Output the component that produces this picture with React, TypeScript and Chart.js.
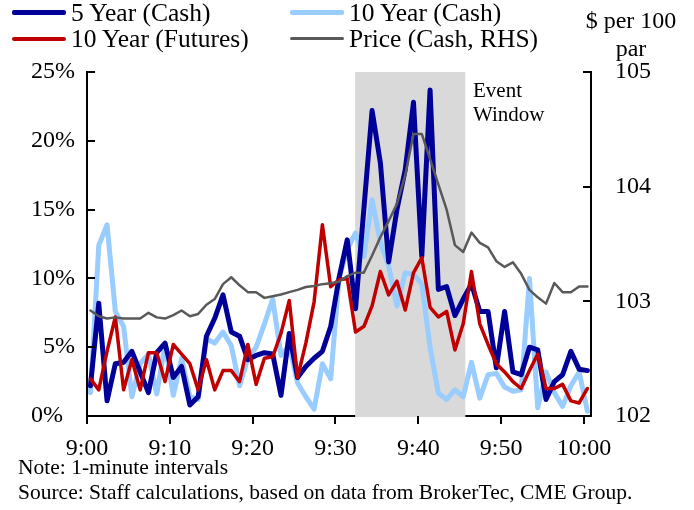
import React, { useEffect, useRef } from "react";
import { Chart, registerables } from "chart.js";

Chart.register(...registerables);

// ---- Data (1-minute intervals, 9:00 .. 10:00) ----
const fiveYearCash = [
  2.2, 8.2, 1.1, 3.8, 3.9, 4.7, 3.2, 1.7, 4.6, 5.3,
  2.8, 3.6, 0.8, 1.4, 5.8, 7.1, 8.8, 6.1, 5.8, 4.1,
  4.4, 4.6, 4.5, 1.5, 6.0, 2.8, 3.6, 4.2, 4.7, 6.5,
  10.0, 12.8, 7.8, 15.0, 22.2, 18.4, 11.2, 15.0, 17.9, 22.8,
  11.6, 23.7, 9.2, 9.4, 7.3, 8.5, 9.6, 7.6, 7.6, 3.5,
  7.6, 3.2, 3.0, 5.0, 4.8, 1.2, 2.5, 3.0, 4.7, 3.4,
  3.3,
];
const tenYearCash = [
  1.7, 12.4, 13.9, 7.6, 6.5, 1.4, 3.8, 4.5, 1.6, 5.2,
  1.5, 4.2, 1.4, 1.2, 5.6, 5.3, 6.1, 5.1, 2.2, 4.2,
  5.0, 6.7, 8.5, 4.4, 5.1, 2.4, 1.4, 0.5, 3.8, 2.7,
  10.0, 12.1, 13.3, 11.6, 15.7, 12.6, 10.9, 8.0, 10.4, 10.3,
  9.6, 5.0, 1.65, 1.2, 1.9, 1.4, 3.9, 1.3, 3.0, 3.1,
  2.1, 1.8, 1.9, 10.0, 0.6, 3.2, 1.7, 0.7, 2.2, 3.2,
  0.35,
];
const tenYearFutures = [
  2.7, 1.9, 4.7, 7.2, 1.9, 4.1, 1.9, 4.6, 4.6, 2.5,
  5.2, 4.5, 3.8, 1.9, 4.1, 1.9, 3.3, 3.3, 2.5, 5.2,
  2.3, 4.2, 4.3, 6.0, 8.4, 2.8, 5.3, 8.3, 13.9, 9.4,
  9.9, 10.0, 6.1, 6.5, 8.0, 10.5, 8.8, 9.8, 7.7, 10.4,
  11.5, 7.9, 7.2, 7.6, 4.8, 6.7, 10.5, 6.7, 5.2, 3.8,
  3.2, 2.5, 2.0, 3.3, 4.5, 2.0, 2.0, 2.3, 1.1, 0.95,
  2.0,
];
const priceCash = [
  102.92, 102.87, 102.85, 102.86, 102.85, 102.85, 102.85, 102.9, 102.86, 102.85,
  102.88, 102.92, 102.87, 102.89, 102.97, 103.02, 103.15, 103.21, 103.14, 103.08,
  103.08, 103.03, 103.045, 103.06, 103.08, 103.1, 103.125, 103.134, 103.15, 103.157,
  103.17, 103.22, 103.25, 103.25, 103.4, 103.56, 103.7, 103.85, 104.1, 104.46,
  104.46, 104.24, 104.02, 103.8, 103.49, 103.43, 103.6, 103.51, 103.47, 103.35,
  103.3, 103.34, 103.24, 103.1, 103.035, 102.98, 103.16, 103.08, 103.08, 103.13,
  103.13,
];

const xTickMinutes = [0, 10, 20, 30, 40, 50, 60];
const xTickLabels = ["9:00", "9:10", "9:20", "9:30", "9:40", "9:50", "10:00"];
const leftTicks = [0, 5, 10, 15, 20, 25];
const rightTicks = [102, 103, 104, 105];
const eventWindow = [32.37, 45.68]; // minutes after 9:00

const SERIF = '"Liberation Serif", "Times New Roman", serif';
const POINT_OFFSET = 0.42;
const X_MAX = 60.85;

const toPoints = (arr: number[]) => arr.map((v, i) => ({ x: i + POINT_OFFSET, y: v }));

const framePlugin = {
  id: "frame",
  beforeDatasetsDraw(chart: any) {
    const { ctx, chartArea, scales } = chart;
    const x1 = scales.x.getPixelForValue(eventWindow[0]);
    const x2 = scales.x.getPixelForValue(eventWindow[1]);
    ctx.save();
    ctx.fillStyle = "#D9D9D9";
    ctx.fillRect(x1, chartArea.top, x2 - x1, chartArea.bottom - chartArea.top + 1);
    ctx.restore();
  },
  afterDraw(chart: any) {
    const { ctx, chartArea, scales } = chart;
    ctx.save();
    ctx.strokeStyle = "#000";
    ctx.lineWidth = 2;
    ctx.beginPath();
    leftTicks.forEach((v) => {
      const py = Math.round(scales.y.getPixelForValue(v));
      ctx.moveTo(chartArea.left, py);
      ctx.lineTo(chartArea.left + 8, py);
    });
    rightTicks.forEach((v) => {
      const py = Math.round(scales.y1.getPixelForValue(v));
      ctx.moveTo(chartArea.right, py);
      ctx.lineTo(chartArea.right - 8, py);
    });
    xTickMinutes.forEach((v) => {
      const px = Math.round(scales.x.getPixelForValue(v));
      ctx.moveTo(px, chartArea.bottom);
      ctx.lineTo(px, chartArea.bottom + 8);
    });
    ctx.stroke();
    ctx.restore();
  },
};

export default function App() {
  const ref = useRef<HTMLCanvasElement | null>(null);

  useEffect(() => {
    if (!ref.current) return;
    const chart = new Chart(ref.current, {
      type: "line",
      data: {
        datasets: [
          {
            label: "Price (Cash, RHS)",
            data: toPoints(priceCash),
            yAxisID: "y1",
            borderColor: "#595959",
            borderWidth: 2.5,
            pointRadius: 0,
            order: 0,
          },
          {
            label: "10 Year (Futures)",
            data: toPoints(tenYearFutures),
            yAxisID: "y",
            borderColor: "#C00000",
            borderWidth: 3.5,
            pointRadius: 0,
            order: 1,
          },
          {
            label: "5 Year (Cash)",
            data: toPoints(fiveYearCash),
            yAxisID: "y",
            borderColor: "#000099",
            borderWidth: 5,
            pointRadius: 0,
            order: 2,
          },
          {
            label: "10 Year (Cash)",
            data: toPoints(tenYearCash),
            yAxisID: "y",
            borderColor: "#99CCFF",
            borderWidth: 5,
            pointRadius: 0,
            order: 3,
          },
        ],
      },
      options: {
        animation: false,
        responsive: false,
        devicePixelRatio: 1,
        events: [],
        elements: {
          line: { tension: 0, borderJoinStyle: "round", borderCapStyle: "round" },
        },
        layout: { padding: { top: 72, left: 0, right: 0, bottom: 0 } },
        plugins: { legend: { display: false }, tooltip: { enabled: false } },
        scales: {
          x: {
            type: "linear",
            min: 0,
            max: X_MAX,
            afterBuildTicks: (s: any) => {
              s.ticks = xTickMinutes.map((v) => ({ value: v }));
            },
            afterFit: (s: any) => {
              s.height = 94;
            },
            grid: { display: false, drawTicks: false },
            border: { display: true, color: "#000", width: 2 },
            ticks: {
              autoSkip: false,
              maxRotation: 0,
              padding: 18,
              color: "#000",
              font: { family: SERIF, size: 24 },
              callback: (v: any) => {
                const k = xTickMinutes.indexOf(Number(v));
                return k >= 0 ? xTickLabels[k] : "";
              },
            },
          },
          y: {
            position: "left",
            min: 0,
            max: 25,
            afterBuildTicks: (s: any) => {
              s.ticks = leftTicks.map((v) => ({ value: v }));
            },
            afterFit: (s: any) => {
              s.width = 87;
            },
            grid: { display: false, drawTicks: false },
            border: { display: true, color: "#000", width: 2 },
            ticks: {
              padding: 12,
              color: "#000",
              font: { family: SERIF, size: 24 },
              callback: (v: any) => (Number(v) === 0 ? "0%  " : `${v}%`),
            },
          },
          y1: {
            position: "right",
            min: 102,
            max: 105,
            afterBuildTicks: (s: any) => {
              s.ticks = rightTicks.map((v) => ({ value: v }));
            },
            afterFit: (s: any) => {
              s.width = 103;
            },
            grid: { display: false, drawTicks: false },
            border: { display: true, color: "#000", width: 2 },
            ticks: {
              padding: 24,
              color: "#000",
              font: { family: SERIF, size: 24 },
              callback: (v: any) => `${v}`,
            },
          },
        },
      },
      plugins: [framePlugin],
    } as any);
    return () => chart.destroy();
  }, []);

  const text: React.CSSProperties = {
    position: "absolute",
    fontFamily: SERIF,
    color: "#000",
    whiteSpace: "nowrap",
    lineHeight: 1,
  };
  const legendItem = (left: number, top: number, color: string, w: number, label: string) => (
    <div style={{ ...text, left, top, fontSize: 25.5, display: "flex", alignItems: "center" }}>
      <span
        style={{
          display: "inline-block",
          width: 54,
          height: 0,
          borderTop: `${w}px solid ${color}`,
          borderRadius: 2,
          marginRight: 5,
        }}
      />
      <span>{label}</span>
    </div>
  );

  return (
    <div style={{ position: "absolute", left: 0, top: 0, width: 694, height: 510, background: "#fff" }}>
      <canvas ref={ref} width={694} height={510} style={{ position: "absolute", left: 0, top: 0, width: 694, height: 510 }} />
      {legendItem(12, 0, "#000099", 5, "5 Year (Cash)")}
      {legendItem(290, 0, "#99CCFF", 5, "10 Year (Cash)")}
      {legendItem(12, 26, "#C00000", 4, "10 Year (Futures)")}
      {legendItem(290, 26, "#595959", 3, "Price (Cash, RHS)")}
      <div style={{ ...text, left: 578, top: 6, width: 106, textAlign: "center", fontSize: 24, lineHeight: "28px" }}>
        $ per 100
        <br />
        par
      </div>
      <div style={{ ...text, left: 473, top: 78, fontSize: 21, lineHeight: "24px" }}>
        Event
        <br />
        Window
      </div>
      <div style={{ ...text, left: 18, top: 457, fontSize: 21.5 }}>Note: 1-minute intervals</div>
      <div style={{ ...text, left: 18, top: 482, fontSize: 21.5 }}>
        Source: Staff calculations, based on data from BrokerTec, CME Group.
      </div>
    </div>
  );
}
